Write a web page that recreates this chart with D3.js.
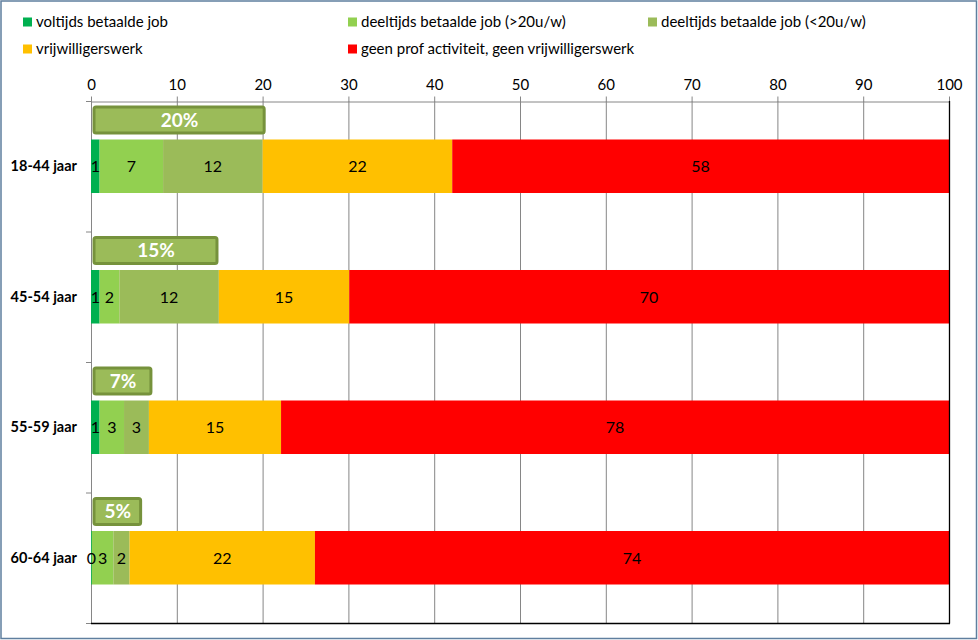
<!DOCTYPE html>
<html>
<head>
<meta charset="utf-8">
<script src="https://cdn.jsdelivr.net/npm/d3@7"></script>
<style>
  body { margin: 0; background: #fff; }
  svg { font-family: Lato, "Open Sans", sans-serif; }
</style>
</head>
<body>
<div id="chart"></div>
<script>
// categories (top to bottom)
var categories = ["18-44 jaar", "45-54 jaar", "55-59 jaar", "60-64 jaar"];

// series names + colours
var seriesNames = [
  "voltijds betaalde job",
  "deeltijds betaalde job (>20u/w)",
  "deeltijds betaalde job  (<20u/w)",
  "vrijwilligerswerk",
  "geen prof activiteit, geen vrijwilligerswerk"
];
var seriesColors = ["#00b050", "#92d050", "#9bbb59", "#ffc000", "#ff0000"];

// values per series (one per category)
var voltijds   = [1.0, 1.0, 1.0, 0.1];
var deeltijds1 = [7.4, 2.3, 2.85, 2.5];
var deeltijds2 = [11.6, 11.6, 2.9, 1.9];
var vrijwillig = [22.1, 15.2, 15.4, 21.6];
var geenProf   = [57.9, 69.9, 77.85, 73.9];

// callout boxes: total paid work
var boxLabels = ["20%", "15%", "7%", "5%"];
var boxEnds   = [20.3, 14.8, 7.1, 5.9];

var xTicks = [0, 10, 20, 30, 40, 50, 60, 70, 80, 90, 100];

var W = 978, H = 640;
var margin = {left: 91, right: 29, top: 101, bottom: 17};

var svg = d3.select("#chart").append("svg")
  .attr("width", W).attr("height", H);

// outer border
svg.append("rect")
  .attr("x", 1).attr("y", 1)
  .attr("width", W - 2.5).attr("height", H - 2.5)
  .attr("fill", "#fff")
  .attr("stroke", "#5f7f9f").attr("stroke-width", 1.5);

var x = d3.scaleLinear().domain([0, 100])
  .range([margin.left, W - margin.right]);
var y = d3.scaleBand().domain(categories)
  .range([margin.top, H - margin.bottom])
  .paddingInner(0.59).paddingOuter(0.295);
var yBands = d3.scaleBand().domain(categories)
  .range([margin.top, H - margin.bottom]);

// gridlines
svg.append("g").selectAll("line")
  .data(xTicks.slice(1, -1)).enter().append("line")
  .attr("x1", d => x(d) + 0.5).attr("x2", d => x(d) + 0.5)
  .attr("y1", margin.top).attr("y2", H - margin.bottom)
  .attr("stroke", "#868686").attr("stroke-width", 1);

// top axis
var xAxis = d3.axisTop(x).tickValues(xTicks).tickSize(5).tickSizeOuter(0);
var gx = svg.append("g")
  .attr("transform", "translate(0," + (margin.top + 0.5) + ")")
  .call(xAxis);
gx.select(".domain").attr("stroke", "#868686");
gx.selectAll(".tick line").attr("stroke", "#868686");
gx.selectAll(".tick text")
  .attr("fill", "#000").attr("font-size", 15)
  .attr("font-family", "Lato, sans-serif").attr("dy", -4);

// y axis line + ticks at band boundaries
svg.append("line")
  .attr("x1", x(0) + 0.5).attr("x2", x(0) + 0.5)
  .attr("y1", margin.top).attr("y2", H - margin.bottom)
  .attr("stroke", "#868686");
svg.append("g").selectAll("line")
  .data(categories.concat(["end"])).enter().append("line")
  .attr("x1", x(0) - 5).attr("x2", x(0))
  .attr("y1", (d, i) => margin.top + i * yBands.step() + 0.5)
  .attr("y2", (d, i) => margin.top + i * yBands.step() + 0.5)
  .attr("stroke", "#868686");

// category labels
svg.append("g").selectAll("text")
  .data(categories).enter().append("text")
  .attr("x", x(0) - 14)
  .attr("y", d => y(d) + y.bandwidth() / 2)
  .attr("dy", "0.35em")
  .attr("text-anchor", "end")
  .attr("font-size", 14.5).attr("font-weight", "bold")
  .attr("fill", "#000")
  .text(d => d);

// stacked bars
var series = [voltijds, deeltijds1, deeltijds2, vrijwillig, geenProf];
var rows = categories.map(function(c, i) {
  var r = {cat: c};
  series.forEach(function(s, k) { r["s" + k] = s[i]; });
  return r;
});
var keys = series.map((s, k) => "s" + k);
var stacked = d3.stack().keys(keys)(rows);

svg.append("g").selectAll("g")
  .data(stacked).enter().append("g")
  .attr("fill", (d, i) => seriesColors[i])
  .selectAll("rect")
  .data(d => d).enter().append("rect")
  .attr("x", d => x(d[0]))
  .attr("width", d => x(d[1]) - x(d[0]))
  .attr("y", d => y(d.data.cat))
  .attr("height", y.bandwidth());

// value labels, drawn after all bars
svg.append("g").selectAll("g")
  .data(stacked).enter().append("g")
  .selectAll("text")
  .data(d => d).enter().append("text")
  .attr("x", d => (x(d[0]) + x(d[1])) / 2)
  .attr("y", d => y(d.data.cat) + y.bandwidth() / 2)
  .attr("dy", "0.36em")
  .attr("text-anchor", "middle")
  .attr("font-size", 16)
  .attr("fill", "#000")
  .text(d => Math.round(d[1] - d[0]));

// right and bottom lines of the plot area
svg.append("line")
  .attr("x1", x(100) + 0.5).attr("x2", x(100) + 0.5)
  .attr("y1", margin.top).attr("y2", H - margin.bottom + 0.5)
  .attr("stroke", "#000").attr("stroke-width", 1.3);
svg.append("line")
  .attr("x1", x(0)).attr("x2", x(100) + 1)
  .attr("y1", H - margin.bottom + 0.5).attr("y2", H - margin.bottom + 0.5)
  .attr("stroke", "#000").attr("stroke-width", 1.3);

// callout boxes
var boxes = svg.append("g").selectAll("g")
  .data(categories).enter().append("g");
boxes.append("rect")
  .attr("x", x(0) + 3)
  .attr("y", d => yBands(d) + 6)
  .attr("width", (d, i) => x(boxEnds[i]) - x(0) - 4)
  .attr("height", 26)
  .attr("rx", 2)
  .attr("fill", "#9bbb59")
  .attr("stroke", "#76923c").attr("stroke-width", 3);
boxes.append("text")
  .attr("x", (d, i) => (x(0) + 3 + x(boxEnds[i])) / 2)
  .attr("y", d => yBands(d) + 19)
  .attr("dy", "0.36em")
  .attr("text-anchor", "middle")
  .attr("fill", "#fff").attr("font-weight", "bold")
  .attr("font-size", 19)
  .text((d, i) => boxLabels[i]);

// legend
var legendPos = [[23, 22], [348, 22], [648, 22], [23, 49], [348, 49]];
var legend = svg.append("g").selectAll("g")
  .data(seriesNames).enter().append("g")
  .attr("transform", (d, i) => "translate(" + legendPos[i][0] + "," + legendPos[i][1] + ")");
legend.append("rect")
  .attr("x", 0).attr("y", -4.5).attr("width", 9).attr("height", 9)
  .attr("fill", (d, i) => seriesColors[i]);
legend.append("text")
  .attr("x", 13).attr("dy", "0.35em")
  .attr("font-size", 15)
  .attr("fill", "#000")
  .text(d => d);
</script>
</body>
</html>
